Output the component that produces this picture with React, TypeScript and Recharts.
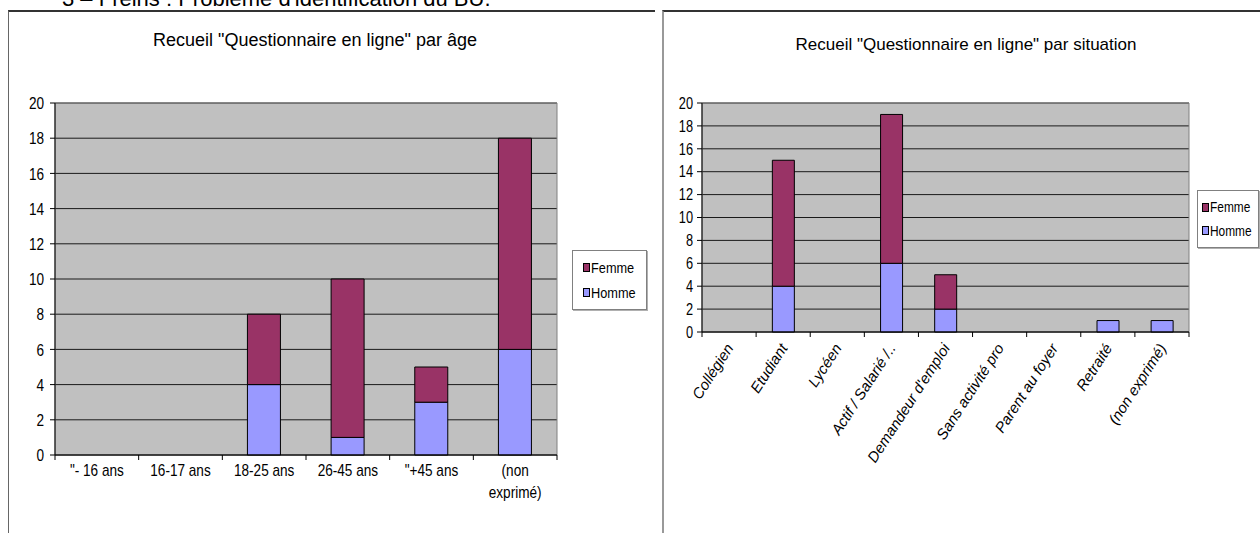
import React from 'react';
import { BarChart, Bar, XAxis, YAxis, CartesianGrid, Legend, ReferenceArea } from 'recharts';

// ---------- data ----------
const ageCategories = ['"- 16 ans', '16-17 ans', '18-25 ans', '26-45 ans', '"+45 ans', '(non exprimé)'];
const ageHomme = [0, 0, 4, 1, 3, 6];
const ageFemme = [0, 0, 4, 9, 2, 12];

const situationCategories = [
  'Collégien',
  'Etudiant',
  'Lycéen',
  'Actif / Salarié /..',
  "Demandeur d'emploi",
  'Sans activité pro',
  'Parent au foyer',
  'Retraité',
  '(non exprimé)',
];
const situationHomme = [0, 4, 0, 6, 2, 0, 0, 1, 1];
const situationFemme = [0, 11, 0, 13, 3, 0, 0, 0, 0];

const yTicks = [0, 2, 4, 6, 8, 10, 12, 14, 16, 18, 20];
const legendOrder = ['Femme', 'Homme'];

const FEMME = '#993366';
const HOMME = '#9999FF';
const PLOT_BG = '#C0C0C0';

const ageData = ageCategories.map((c, i) => ({ name: c, Homme: ageHomme[i], Femme: ageFemme[i] }));
const situationData = situationCategories.map((c, i) => ({ name: c, Homme: situationHomme[i], Femme: situationFemme[i] }));

const SANS = "'Liberation Sans', Arial, sans-serif";
const SQUEEZE = 0.85;

// ---------- ticks ----------
const makeAgeTick = (count: number, fallbackHalf: number) => (props: any) => {
  const { x, y, payload, index } = props;
  const half = payload && typeof payload.offset === 'number' && payload.offset > 0 ? payload.offset : fallbackHalf;
  const v: string = payload.value;
  let lines = [v];
  if (v.length > 10 && v.indexOf(' ') > 0) {
    const k = v.indexOf(' ');
    lines = [v.slice(0, k), v.slice(k + 1)];
  }
  return (
    <g>
      <line x1={x - half} x2={x - half} y1={y} y2={y + 5} stroke="#000" />
      {index === count - 1 && <line x1={x + half} x2={x + half} y1={y} y2={y + 5} stroke="#000" />}
      {lines.map((l, i) => (
        <text
          key={i}
          x={0}
          y={0}
          transform={`translate(${x}, ${y + 21 + i * 22}) scale(${SQUEEZE}, 1)`}
          textAnchor="middle"
          fontSize={16}
          fontFamily={SANS}
          fill="#000"
        >
          {l}
        </text>
      ))}
    </g>
  );
};

const makeYTick = (fontSize: number) => (props: any) => {
  const { x, y, payload } = props;
  return (
    <text
      x={0}
      y={0}
      dy="0.36em"
      transform={`translate(${x}, ${y}) scale(0.8, 1)`}
      textAnchor="end"
      fontSize={fontSize}
      fontFamily={SANS}
      fill="#000"
    >
      {payload.value}
    </text>
  );
};

const makeSituationTick = (count: number, fallbackHalf: number) => (props: any) => {
  const { x, y, payload, index } = props;
  const half = payload && typeof payload.offset === 'number' && payload.offset > 0 ? payload.offset : fallbackHalf;
  const tx = x + 5;
  const ty = y + 16;
  return (
    <g>
      <line x1={x - half} x2={x - half} y1={y} y2={y + 5} stroke="#000" />
      {index === count - 1 && <line x1={x + half} x2={x + half} y1={y} y2={y + 5} stroke="#000" />}
      <text
        x={tx}
        y={ty}
        textAnchor="end"
        fontSize={15}
        fontStyle="italic"
        fontFamily={SANS}
        fill="#000"
        transform={`rotate(-57, ${tx}, ${ty})`}
      >
        {payload.value}
      </text>
    </g>
  );
};

// ---------- legend ----------
const makeLegend = (box: { width: number; height: number; fontSize: number; padLeft: number }) => (props: any) => {
  const payload = props.payload || [];
  const items = legendOrder
    .map((n) => payload.find((p: any) => p.value === n || p.dataKey === n))
    .filter(Boolean);
  return (
    <div
      style={{
        width: box.width,
        height: box.height,
        boxSizing: 'border-box',
        border: '1px solid #808080',
        boxShadow: '1px 1px 0 #b0b0b0',
        background: '#fff',
        paddingLeft: box.padLeft,
        display: 'flex',
        flexDirection: 'column',
        justifyContent: 'space-evenly',
        fontFamily: SANS,
        fontSize: box.fontSize,
        color: '#000',
      }}
    >
      {items.map((it: any) => (
        <div key={it.value} style={{ display: 'flex', alignItems: 'center', lineHeight: 1, whiteSpace: 'nowrap' }}>
          <span
            style={{
              display: 'inline-block',
              width: 5,
              height: 7,
              background: it.color,
              border: '1px solid #000',
              marginRight: 1,
              flex: 'none',
            }}
          />
          <span style={{ display: 'inline-block', transform: `scaleX(${SQUEEZE})`, transformOrigin: 'left center' }}>
            {it.value}
          </span>
        </div>
      ))}
    </div>
  );
};

const AgeLegend = makeLegend({ width: 75, height: 60, fontSize: 15, padLeft: 10 });
const SituationLegend = makeLegend({ width: 62, height: 58, fontSize: 14, padLeft: 4 });

// ---------- layout ----------
const LEFT = { left: 8, top: 10, width: 647, height: 523, plotL: 47, plotR: 549, plotT: 93, plotB: 445 };
const RIGHT = { left: 662, top: 10, width: 598, height: 523, plotL: 40, plotR: 527, plotT: 93, plotB: 322 };

const AgeTick = makeAgeTick(ageCategories.length, (LEFT.plotR - LEFT.plotL) / ageCategories.length / 2);
const SituationTick = makeSituationTick(
  situationCategories.length,
  (RIGHT.plotR - RIGHT.plotL) / situationCategories.length / 2
);
const AgeYTick = makeYTick(17);
const SituationYTick = makeYTick(16);

export default function App() {
  return (
    <div
      style={{
        position: 'absolute',
        left: 0,
        top: 0,
        width: 1260,
        height: 533,
        overflow: 'hidden',
        background: '#fff',
        fontFamily: SANS,
      }}
    >
      {/* clipped heading of the document (cut off at the top, as in the reference) */}
      <div
        style={{
          position: 'absolute',
          left: 62,
          top: -12,
          fontSize: 22,
          lineHeight: '22px',
          fontFamily: SANS,
          color: '#000',
          whiteSpace: 'nowrap',
        }}
      >
        3 – Freins : Problème d'identification du BU.
      </div>

      {/* frames */}
      <div
        style={{
          position: 'absolute',
          left: 8,
          top: 10,
          width: 647,
          height: 540,
          borderTop: '2px solid #333',
          borderLeft: '1px solid #666',
          boxSizing: 'border-box',
        }}
      />
      <div
        style={{
          position: 'absolute',
          left: 662,
          top: 10,
          width: 600,
          height: 540,
          borderTop: '2px solid #333',
          borderLeft: '2px solid #999',
          boxSizing: 'border-box',
        }}
      />

      {/* titles */}
      <div
        style={{
          position: 'absolute',
          left: 115,
          width: 400,
          top: 30,
          textAlign: 'center',
          fontSize: 18,
          fontFamily: SANS,
          color: '#000',
        }}
      >
        Recueil "Questionnaire en ligne" par âge
      </div>
      <div
        style={{
          position: 'absolute',
          left: 716,
          width: 500,
          top: 35,
          textAlign: 'center',
          fontSize: 17,
          fontFamily: SANS,
          color: '#000',
        }}
      >
        Recueil "Questionnaire en ligne" par situation
      </div>

      {/* left chart */}
      <div style={{ position: 'absolute', left: LEFT.left, top: LEFT.top }}>
        <BarChart
          width={LEFT.width}
          height={LEFT.height}
          data={ageData}
          barCategoryGap="30%"
          margin={{ top: LEFT.plotT, left: 0, right: LEFT.width - LEFT.plotR, bottom: 18 }}
        >
          <CartesianGrid vertical={false} stroke="#1a1a1a" fill={PLOT_BG} fillOpacity={1} />
          <ReferenceArea y1={0} y2={20} fill="none" stroke="#808080" strokeWidth={1} ifOverflow="visible" />
          <XAxis
            dataKey="name"
            interval={0}
            height={60}
            tickSize={0}
            tickMargin={0}
            tickLine={false}
            axisLine={{ stroke: '#000' }}
            tick={AgeTick}
          />
          <YAxis
            width={LEFT.plotL}
            domain={[0, 20]}
            ticks={yTicks}
            interval={0}
            tickSize={5}
            tickMargin={6}
            tickLine={{ stroke: '#000' }}
            axisLine={{ stroke: '#000' }}
            tick={AgeYTick}
          />
          <Legend
            layout="vertical"
            align="center"
            verticalAlign="middle"
            content={AgeLegend}
            wrapperStyle={{ left: 564, top: 240, width: 75, height: 60 }}
          />
          <Bar dataKey="Homme" name="Homme" stackId="a" fill={HOMME} stroke="#000" strokeWidth={1} isAnimationActive={false} />
          <Bar dataKey="Femme" name="Femme" stackId="a" fill={FEMME} stroke="#000" strokeWidth={1} isAnimationActive={false} />
        </BarChart>
      </div>

      {/* right chart */}
      <div style={{ position: 'absolute', left: RIGHT.left, top: RIGHT.top }}>
        <BarChart
          width={RIGHT.width}
          height={RIGHT.height}
          data={situationData}
          barCategoryGap="30%"
          margin={{ top: RIGHT.plotT, left: 0, right: RIGHT.width - RIGHT.plotR, bottom: 21 }}
        >
          <CartesianGrid vertical={false} stroke="#1a1a1a" fill={PLOT_BG} fillOpacity={1} />
          <ReferenceArea y1={0} y2={20} fill="none" stroke="#808080" strokeWidth={1} ifOverflow="visible" />
          <XAxis
            dataKey="name"
            interval={0}
            height={180}
            tickSize={0}
            tickMargin={0}
            tickLine={false}
            axisLine={{ stroke: '#000' }}
            tick={SituationTick}
          />
          <YAxis
            width={RIGHT.plotL}
            domain={[0, 20]}
            ticks={yTicks}
            interval={0}
            tickSize={5}
            tickMargin={4}
            tickLine={{ stroke: '#000' }}
            axisLine={{ stroke: '#000' }}
            tick={SituationYTick}
          />
          <Legend
            layout="vertical"
            align="center"
            verticalAlign="middle"
            content={SituationLegend}
            wrapperStyle={{ left: 535, top: 180, width: 62, height: 58 }}
          />
          <Bar dataKey="Homme" name="Homme" stackId="a" fill={HOMME} stroke="#000" strokeWidth={1} isAnimationActive={false} />
          <Bar dataKey="Femme" name="Femme" stackId="a" fill={FEMME} stroke="#000" strokeWidth={1} isAnimationActive={false} />
        </BarChart>
      </div>
    </div>
  );
}
